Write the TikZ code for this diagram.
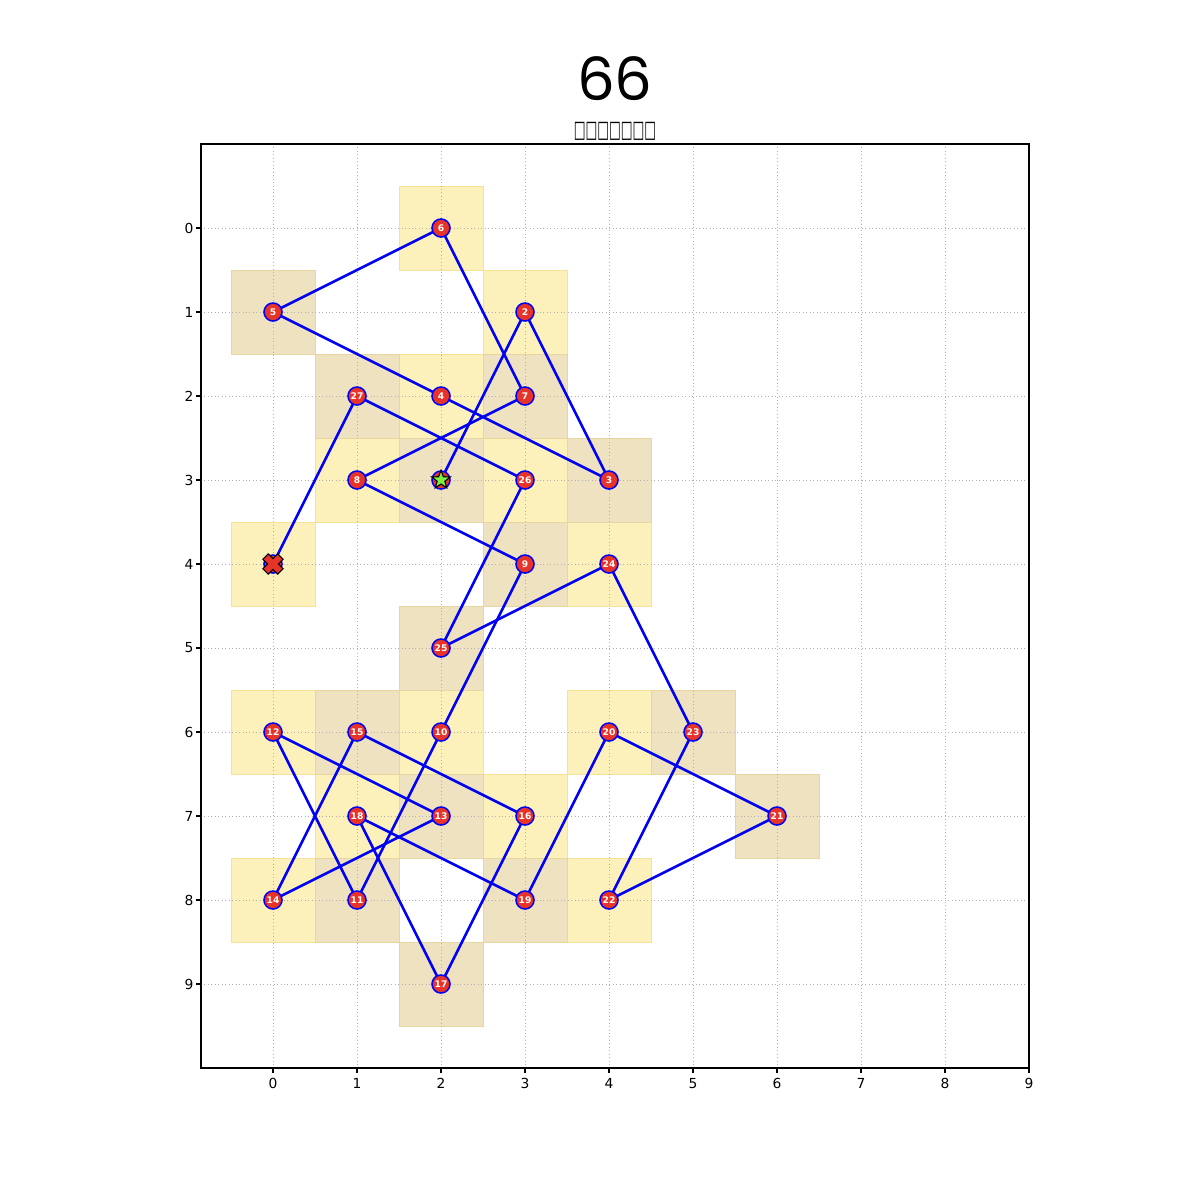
\documentclass[tikz,border=0pt]{standalone}
\usepackage{fontspec}
\setmainfont{DejaVu Sans}
\newfontfamily\titlefont{Poppins}
\usetikzlibrary{shapes.geometric}
\definecolor{cellY}{RGB}{253,241,187}
\definecolor{cellYe}{RGB}{246,226,150}
\definecolor{cellT}{RGB}{238,226,192}
\definecolor{cellTe}{RGB}{232,214,160}
\definecolor{ptred}{RGB}{232,52,40}
\definecolor{ptblue}{RGB}{0,0,245}
\definecolor{stargreen}{RGB}{124,240,60}
\definecolor{gridgray}{RGB}{176,176,176}
\pgfdeclarelayer{bg}
\pgfdeclarelayer{edges}
\pgfsetlayers{bg,edges,main}
\tikzset{
  ycell/.style={fill=cellY, draw=cellYe, line width=0.6pt},
  tcell/.style={fill=cellT, draw=cellTe, line width=0.6pt},
  pt/.style={circle, fill=ptred, draw=ptblue, line width=1.1pt, minimum size=13bp, inner sep=0pt,
    text=white, font=\fontsize{6.6}{7}\selectfont\bfseries},
  edge/.style={draw=ptblue, line width=1.9pt},
  gridline/.style={draw=gridgray, line width=0.5pt, dotted},
  ticklab/.style={font=\fontsize{10}{12}\selectfont, inner sep=0pt},
  startmark/.style={star, star points=5, star point ratio=2.4, minimum size=14bp, inner sep=0pt,
    fill=stargreen, draw=black, line width=0.8pt},
}
\begin{document}
\begin{tikzpicture}[x=60.48bp, y=-60.48bp]
\begin{pgfonlayer}{bg}
\useasboundingbox[fill=white] (-3.25,-2.7143) rectangle (11.0357,11.5714);
\end{pgfonlayer}
% titles
\node[font=\titlefont\fontsize{43}{46}\selectfont, inner sep=0pt, anchor=base, text depth=0pt]
  (title) at (4.071,-1.52) {66};
\node[font=\fontsize{9}{10}\selectfont, inner sep=0pt, anchor=base] (subtitle) at (4.071,-1.08)
  {\scalebox{1}[1.9]{□□□□□□□}};
\begin{pgfonlayer}{bg}
  \foreach \x/\y in {2/0,3/1,2/2,1/3,3/3,0/4,4/4,0/6,2/6,4/6,1/7,3/7,0/8,4/8}
    \path[ycell] (\x-0.5,\y-0.5) rectangle (\x+0.5,\y+0.5);
  \foreach \x/\y in {0/1,1/2,3/2,2/3,4/3,3/4,2/5,1/6,5/6,2/7,6/7,1/8,3/8,2/9}
    \path[tcell] (\x-0.5,\y-0.5) rectangle (\x+0.5,\y+0.5);
  \foreach \k in {0,...,8} {
    \draw[gridline] (\k,-1) -- (\k,10);
  }
  \foreach \k in {0,...,9} {
    \draw[gridline] (-0.857,\k) -- (9,\k);
  }
  % frame
  \draw[line width=0.8pt] (-0.857,-1) rectangle (9,10);
  \foreach \k in {0,...,9} {
    \draw[line width=0.8pt] (\k,10) -- (\k,10.058);
    \node[ticklab] (xl\k) at (\k,10.18) {\k};
    \draw[line width=0.8pt] (-0.857,\k) -- (-0.915,\k);
    \node[ticklab, anchor=east] (yl\k) at (-0.945,\k) {\k};
  }
\end{pgfonlayer}
% nodes
\node[pt] (n1) at (2,3) {};
\foreach \i/\x/\y in {2/3/1,3/4/3,4/2/2,5/0/1,6/2/0,7/3/2,8/1/3,9/3/4,10/2/6,11/1/8,12/0/6,13/2/7,
  14/0/8,15/1/6,16/3/7,17/2/9,18/1/7,19/3/8,20/4/6,21/6/7,22/4/8,23/5/6,24/4/4,25/2/5,26/3/3,27/1/2}
  \node[pt] (n\i) at (\x,\y) {\i};
\node[pt] (n28) at (0,4) {};
% edges
\begin{pgfonlayer}{edges}
  \foreach \a/\b in {1/2,2/3,3/4,4/5,5/6,6/7,7/8,8/9,9/10,10/11,11/12,12/13,13/14,14/15,15/16,16/17,
    17/18,18/19,19/20,20/21,21/22,22/23,23/24,24/25,25/26,26/27,27/28}
    \draw[edge] (n\a.center) -- (n\b.center);
\end{pgfonlayer}
% start / end markers
\node[startmark] (startm) at (n1.center) {};
\begin{scope}[shift={(n28.center)}, rotate=45]
  \filldraw[fill=ptred, draw=black, line width=0.8pt]
    (-0.045,-0.125) -- (0.045,-0.125) -- (0.045,-0.045) -- (0.125,-0.045) -- (0.125,0.045) --
    (0.045,0.045) -- (0.045,0.125) -- (-0.045,0.125) -- (-0.045,0.045) -- (-0.125,0.045) --
    (-0.125,-0.045) -- (-0.045,-0.045) -- cycle;
\end{scope}
\end{tikzpicture}
\end{document}
